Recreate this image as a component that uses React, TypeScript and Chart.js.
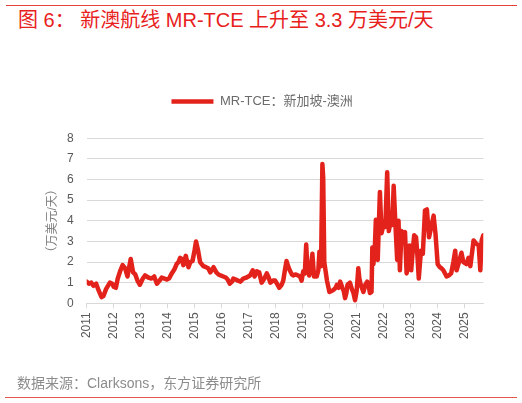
import React, { useEffect, useRef } from "react";
import { Chart, registerables } from "chart.js";

Chart.register(...registerables);

const TITLE = "图 6： 新澳航线 MR-TCE 上升至 3.3 万美元/天";
const SOURCE = "数据来源：Clarksons，东方证券研究所";
const SERIES_NAME = "MR-TCE：新加坡-澳洲";
const Y_TITLE = "（万美元/天）";

const yearTicks = [2011, 2012, 2013, 2014, 2015, 2016, 2017, 2018, 2019, 2020, 2021, 2022, 2023, 2024, 2025];
const yTicks = [0, 1, 2, 3, 4, 5, 6, 7, 8];

const timePoints = [
  2011.0, 2011.08, 2011.17, 2011.25, 2011.35, 2011.45, 2011.55, 2011.62, 2011.72, 2011.86, 2011.95,
  2012.0, 2012.08, 2012.15, 2012.25, 2012.33, 2012.42, 2012.51, 2012.63, 2012.72, 2012.8, 2012.88, 2012.97,
  2013.08, 2013.16, 2013.28, 2013.4, 2013.5, 2013.6, 2013.7, 2013.78, 2013.88, 2013.96,
  2014.05, 2014.15, 2014.25, 2014.33, 2014.4, 2014.46, 2014.52, 2014.58, 2014.67, 2014.77, 2014.84, 2014.92,
  2015.0, 2015.05, 2015.12, 2015.2, 2015.32, 2015.42, 2015.5, 2015.58, 2015.7, 2015.8, 2015.88, 2015.96,
  2016.06, 2016.15, 2016.22, 2016.3, 2016.38, 2016.43, 2016.52, 2016.6, 2016.7, 2016.8, 2016.92,
  2017.05, 2017.15, 2017.22, 2017.3, 2017.39, 2017.48, 2017.58, 2017.67, 2017.74, 2017.8, 2017.9, 2017.98,
  2018.05, 2018.13, 2018.22, 2018.28, 2018.34, 2018.4, 2018.46, 2018.52, 2018.6, 2018.65, 2018.75, 2018.83, 2018.9, 2018.96,
  2019.02, 2019.08, 2019.13, 2019.17, 2019.24, 2019.3, 2019.36, 2019.42, 2019.52, 2019.58, 2019.62, 2019.68, 2019.73, 2019.76, 2019.8, 2019.9, 2019.99,
  2020.07, 2020.14, 2020.22, 2020.27, 2020.33, 2020.39, 2020.47, 2020.52, 2020.57, 2020.62, 2020.66, 2020.75, 2020.82, 2020.88, 2020.94,
  2021.0, 2021.06, 2021.1, 2021.15, 2021.25, 2021.32, 2021.39, 2021.45, 2021.49, 2021.55, 2021.58, 2021.62, 2021.67, 2021.71, 2021.74, 2021.78, 2021.86, 2021.92,
  2022.0, 2022.06, 2022.13, 2022.19, 2022.26, 2022.32, 2022.37, 2022.44, 2022.5, 2022.55, 2022.6, 2022.66, 2022.72, 2022.79, 2022.85, 2022.91, 2022.96,
  2023.02, 2023.08, 2023.13, 2023.2, 2023.25, 2023.3, 2023.38, 2023.45, 2023.53, 2023.6, 2023.68, 2023.76, 2023.85, 2023.92,
  2024.0, 2024.08, 2024.14, 2024.21, 2024.33, 2024.41, 2024.5, 2024.58, 2024.65, 2024.7, 2024.8, 2024.88, 2024.95,
  2025.07, 2025.14, 2025.21, 2025.33, 2025.42, 2025.52, 2025.58, 2025.63, 2025.69,
];

const tceValues = [
  1.05, 0.95, 1.0, 0.85, 0.95, 0.6, 0.3, 0.35, 0.7, 1.0, 0.95,
  0.8, 0.75, 1.2, 1.6, 1.85, 1.7, 1.3, 2.15, 1.5, 1.4, 1.1, 0.9,
  1.2, 1.35, 1.25, 1.2, 1.3, 0.95, 1.1, 1.25, 1.2, 1.15,
  1.2, 1.45, 1.65, 1.9, 2.0, 2.2, 2.15, 1.85, 2.3, 1.75, 2.0, 2.05,
  2.6, 3.0, 2.6, 2.0, 1.8, 1.75, 1.7, 1.5, 1.75, 1.5, 1.4, 1.35,
  1.3, 1.25, 1.15, 0.95, 1.05, 1.2, 1.15, 1.1, 1.05, 1.2, 1.25,
  1.35, 1.6, 1.3, 1.55, 1.5, 1.0, 1.2, 1.45, 1.25, 1.0, 1.1, 1.1,
  0.95, 0.75, 0.9, 1.1, 1.6, 2.05, 1.8, 1.6, 1.4, 1.35, 1.4, 1.35, 1.3, 1.1,
  1.55, 1.45, 2.85, 1.8, 1.35, 1.7, 2.4, 1.3, 1.3, 1.6, 2.5, 1.8, 6.75, 6.1, 2.0, 1.1, 0.55,
  0.6, 0.65, 0.75, 0.9, 0.75, 1.05, 0.75, 0.6, 0.25, 0.5, 0.9, 1.0, 0.7, 0.5, 0.15,
  0.6, 1.7, 1.2, 0.9, 0.55, 0.9, 1.05, 0.8, 0.5, 0.55, 2.7, 1.9, 2.6, 4.05, 3.4, 2.1, 5.4, 3.4,
  3.85, 3.7, 6.35, 3.5, 4.0, 3.8, 5.7, 3.7, 2.1, 4.0, 1.6, 3.5, 3.3, 3.45, 1.45, 1.9, 2.8,
  1.6, 2.6, 3.3, 3.2, 2.3, 1.2, 2.55, 2.4, 4.5, 4.55, 3.2, 3.7, 4.25, 3.35,
  1.9, 1.75, 1.7, 1.6, 1.3, 1.35, 1.45, 2.0, 2.55, 1.6, 2.05, 2.45, 2.0,
  1.9, 2.2, 1.8, 3.05, 2.9, 2.8, 1.6, 3.05, 3.3,
];

const RED = "#e3231b";
const FONT = "'Liberation Sans', 'Noto Sans CJK SC', sans-serif";

function TceChart() {
  const canvasRef = useRef<HTMLCanvasElement | null>(null);

  useEffect(() => {
    if (!canvasRef.current) return;
    const data = timePoints.map((t, i) => ({ x: t, y: tceValues[i] }));
    const chart = new Chart(canvasRef.current, {
      type: "line",
      data: {
        datasets: [
          {
            label: SERIES_NAME,
            data,
            borderColor: RED,
            backgroundColor: RED,
            borderWidth: 4.5,
            pointRadius: 0,
            tension: 0,
            borderCapStyle: "round",
            borderJoinStyle: "round",
          },
        ],
      },
      options: {
        responsive: false,
        animation: false,
        layout: { padding: { left: 41, right: 38.7, top: 65, bottom: 39.7 } },
        plugins: {
          tooltip: { enabled: false },
          legend: {
            display: true,
            position: "top",
            labels: {
              usePointStyle: true,
              pointStyle: "line",
              pointStyleWidth: 42,
              boxHeight: 13,
              padding: 30,
              color: "#6b6b6b",
              font: { family: FONT, size: 13 },
            },
          },
          subtitle: {
            display: true,
            text: "",
            position: "top",
            weight: 500,
            font: { size: 1, lineHeight: 1 },
            padding: { top: 0, bottom: 19.3 },
          },
        },
        scales: {
          x: {
            type: "linear",
            min: 2011,
            max: 2025.69,
            afterBuildTicks: (scale: any) => {
              scale.ticks = yearTicks.map((v) => ({ value: v }));
            },
            afterFit: (scale: any) => {
              scale.height = 60;
            },
            ticks: {
              autoSkip: false,
              minRotation: 90,
              maxRotation: 90,
              padding: 4,
              color: "#595959",
              font: { family: FONT, size: 12 },
              callback: (v: any) => String(v),
            },
            grid: {
              display: true,
              drawOnChartArea: false,
              drawTicks: true,
              tickLength: 5,
              color: "#d9d9d9",
            },
            border: { display: true, color: "#d9d9d9" },
          },
          y: {
            min: 0,
            max: 8,
            afterBuildTicks: (scale: any) => {
              scale.ticks = yTicks.map((v) => ({ value: v }));
            },
            afterFit: (scale: any) => {
              scale.width = 45.7;
            },
            ticks: {
              padding: 13,
              color: "#595959",
              font: { family: FONT, size: 12 },
            },
            grid: { color: "#d9d9d9", drawTicks: false, lineWidth: 1 },
            border: { display: false },
            title: {
              display: true,
              text: Y_TITLE,
              color: "#7f7f7f",
              font: { family: FONT, size: 12 },
            },
          },
        },
      },
    });
    return () => chart.destroy();
  }, []);

  return <canvas ref={canvasRef} width={522} height={403} style={{ position: "absolute", left: 0, top: 0, width: 522, height: 403 }} />;
}

export default function App() {
  return (
    <div style={{ position: "absolute", left: 0, top: 0, width: 522, height: 403, background: "#fff", overflow: "hidden" }}>
      <div style={{ position: "absolute", left: 6, top: 5, width: 511, height: 1, background: "#e5413a" }} />
      <div
        style={{
          position: "absolute",
          left: 18,
          top: 8,
          lineHeight: "24px",
          fontSize: 20,
          color: "#e8211c",
          fontFamily: FONT,
          whiteSpace: "nowrap",
        }}
      >
        {TITLE}
      </div>
      <TceChart />
      <div
        style={{
          position: "absolute",
          left: 17,
          top: 374,
          lineHeight: "18px",
          fontSize: 14,
          color: "#8c8c8c",
          fontFamily: FONT,
          whiteSpace: "nowrap",
        }}
      >
        {SOURCE}
      </div>
      <div style={{ position: "absolute", left: 5, top: 397, width: 512, height: 1, background: "#e5584e" }} />
    </div>
  );
}
